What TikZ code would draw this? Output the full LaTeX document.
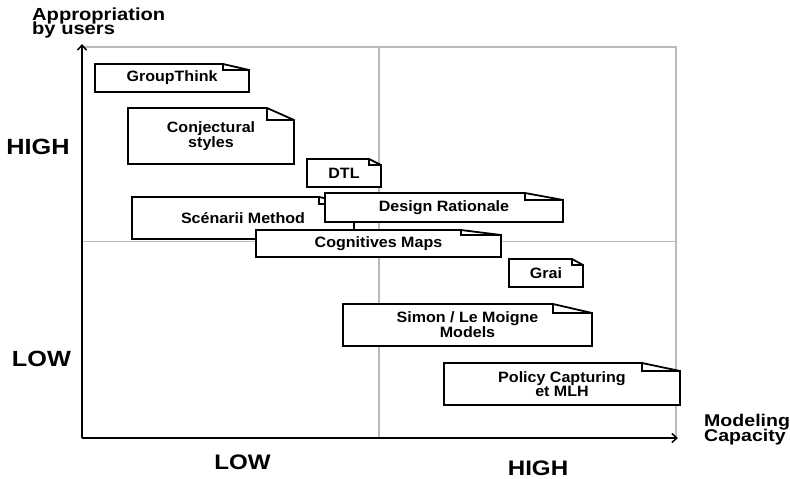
\documentclass[tikz,border=0pt]{standalone}
\usepackage{fontspec}
\setmainfont{Liberation Sans}
\newfontfamily\notefont[FakeStretch=1.07]{Liberation Sans}
\newfontfamily\labfont[FakeStretch=1.15]{Liberation Sans}
\usetikzlibrary{arrows.meta}
\tikzset{
  grid line/.style={draw=black!27, line width=1.4pt},
  axis line/.style={draw=black, line width=1.5pt, -{Straight Barb[length=5pt,width=9pt]}},
  note shape/.style={draw=black, line width=1.8pt, fill=white, line join=miter},
  note fold/.style={draw=black, line width=1.8pt},
  note text/.style={font=\notefont\bfseries\fontsize{15}{13.5}\selectfont, align=center, inner sep=0pt},
  big label/.style={font=\labfont\bfseries\fontsize{22}{24}\selectfont, inner sep=0pt, anchor=base},
  axis title/.style={font=\labfont\bfseries\fontsize{17.5}{19}\selectfont, inner sep=0pt, anchor=base west},
}
% #1 left, #2 top, #3 right, #4 bottom, #5 fold x, #6 fold depth, #7 name, #8 text
\newcommand\notebox[8]{%
  \draw[note shape] (#1,#2) -- (#5,#2) -- (#3,#2+#6) -- (#3,#4) -- (#1,#4) -- cycle;
  \draw[note fold] (#5,#2) -- (#5,#2+#6) -- (#3,#2+#6);
  \node[note text] (#7) at ({(#1+#3)/2},{(#2+#4)/2}) {#8};}
\begin{document}
\begin{tikzpicture}[x=1pt,y=-1pt]
\useasboundingbox (0,0) rectangle (790,479);
% grid
\coordinate (gtl) at (82,47);
\coordinate (gtr) at (676,47);
\coordinate (gbr) at (676,438);
\coordinate (gmt) at (379,47);
\coordinate (gmb) at (379,438);
\coordinate (gml) at (82,241.5);
\coordinate (gmr) at (676,241.5);
\draw[grid line] (gtl) -- (gtr) -- (gbr);
\draw[grid line] (gmt) -- (gmb);
\draw[grid line] (gml) -- (gmr);
% axes
\coordinate (O) at (82,438);
\coordinate (ytop) at (82,44);
\coordinate (xend) at (678,438);
\draw[axis line] (O) -- (ytop);
\draw[axis line] (O) -- (xend);
% axis titles
\node[axis title] (app1) at (32,20.7) {Appropriation};
\node[axis title] (app2) at (32,34.3) {by users};
\node[axis title, font=\labfont\bfseries\fontsize{17}{19}\selectfont] (mod1) at (704,426) {Modeling};
\node[axis title, font=\labfont\bfseries\fontsize{17}{19}\selectfont] (mod2) at (704,441) {Capacity};
% levels
\node[big label] (yhigh) at (38,154) {HIGH};
\node[big label] (ylow) at (41.5,366) {LOW};
\node[big label, font=\labfont\bfseries\fontsize{21}{24}\selectfont] (xlow) at (242.5,469) {LOW};
\node[big label, font=\labfont\bfseries\fontsize{21}{24}\selectfont] (xhigh) at (538,475) {HIGH};
% notes
\notebox{95}{64}{249}{92}{223}{6}{gt}{GroupThink}
\notebox{128}{108}{294}{164}{267}{12}{cs}{Conjectural\\styles}
\notebox{307}{159}{381}{187}{369}{6}{dtl}{DTL}
\notebox{132}{197}{354}{239}{319}{7}{sm}{Scénarii Method}
\notebox{325}{193}{563}{222}{525}{7}{dr}{Design Rationale}
\notebox{256}{230}{501}{257}{461}{5}{cm}{Cognitives Maps}
\notebox{509}{259}{583}{287}{572}{6}{grai}{Grai}
\notebox{343}{304}{592}{346}{553}{9}{slm}{Simon / Le Moigne\\Models}
\notebox{444}{363}{680}{405}{642}{8}{pc}{Policy Capturing\\et MLH}
\end{tikzpicture}
\end{document}
